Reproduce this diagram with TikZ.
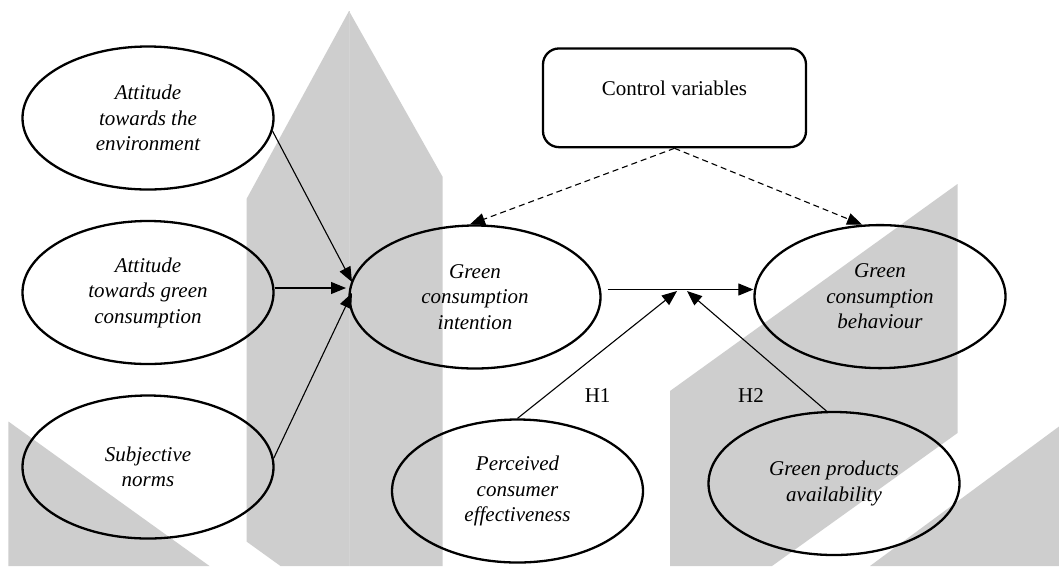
\documentclass[tikz,border=0pt]{standalone}
\usepackage{fontspec}
\setmainfont{Liberation Serif}
\usetikzlibrary{shapes.geometric,arrows.meta}
\definecolor{wmgray}{RGB}{206,206,206}
\definecolor{seamgray}{RGB}{212,212,212}
\begin{document}
\begin{tikzpicture}[x=1pt,y=-1pt,
  ell/.style={ellipse,draw,line width=2.3pt,minimum width=251pt,minimum height=143pt,
    inner sep=0pt,align=center,font=\fontsize{21}{25.5}\selectfont\itshape},
  arr/.style={line width=1.1pt,-{Triangle[length=15pt,width=12pt]}},
  darr/.style={arr,dash pattern=on 6pt off 4pt},
  cvbox/.style={draw,line width=2.3pt,rounded corners=16pt,minimum width=263pt,
    inner ysep=0pt,text height=47.3pt,text depth=51.4pt,font=\fontsize{21}{25.5}\selectfont},
  lbl/.style={font=\fontsize{21}{25.5}\selectfont,inner sep=0pt},
  wm/.style={fill=wmgray,draw=none}]
\fill[white] (0,0) rectangle (1059,566);
\useasboundingbox (0,0) rectangle (1059,566);
% watermark shapes
\path[wm] (349,11) -- (442.7,177) -- (442.7,566) -- (280.5,566) -- (246.5,541.5) -- (246.5,199) -- cycle;
\draw[seamgray,line width=0.6pt] (349,11) -- (349,566);
\path[wm] (8.4,421.5) -- (209.5,566) -- (8.4,566) -- cycle;
\path[wm] (670,391) -- (957.5,184) -- (957.5,433) -- (772,566) -- (670,566) -- cycle;
\path[wm] (1059,426.5) -- (1059,566) -- (870,566) -- cycle;
% nodes
\node[ell] (e1) at (148,118) {Attitude\\towards the\\environment};
\node[ell] (e2) at (148,292.5) {Attitude\\towards green\\consumption};
\node[ell] (e3) at (148,467) {Subjective\\norms};
\node[ell] (intent) at (475,297) {Green\\consumption\\intention};
\node[ell] (beh) at (880,296.6) {Green\\consumption\\behaviour};
\node[ell] (pce) at (517.5,491) {Perceived\\consumer\\effectiveness};
\node[ell] (gpa) at (834,483.5) {Green products\\availability};
\node[cvbox,anchor=north] (cv) at (674.5,47.3) {Control variables};
\node[lbl] (h1) at (597.6,396) {H1};
\node[lbl] (h2) at (751,396) {H2};
% coordinates
\coordinate (t1) at (352,282);
\coordinate (t2) at (346,288);
\coordinate (t3) at (352,293);
\coordinate (m) at (682,289.5);
\coordinate (h1t) at (677,291);
\coordinate (h2t) at (687,291);
% connectors
\draw[arr] (e1.-6) -- (t1);
\draw[arr] (e2.east |- t2) -- (t2);
\draw[arr] (e3.4) -- (t3);
\draw[arr] ([xshift=6pt]intent.east |- m) -- (beh.west |- m);
\draw[arr] (pce.north) -- (h1t);
\draw[arr] (gpa.96) -- (h2t);
\draw[darr] (cv.south) -- (intent.94);
\draw[darr] (cv.south) -- (beh.104);
\end{tikzpicture}
\end{document}
